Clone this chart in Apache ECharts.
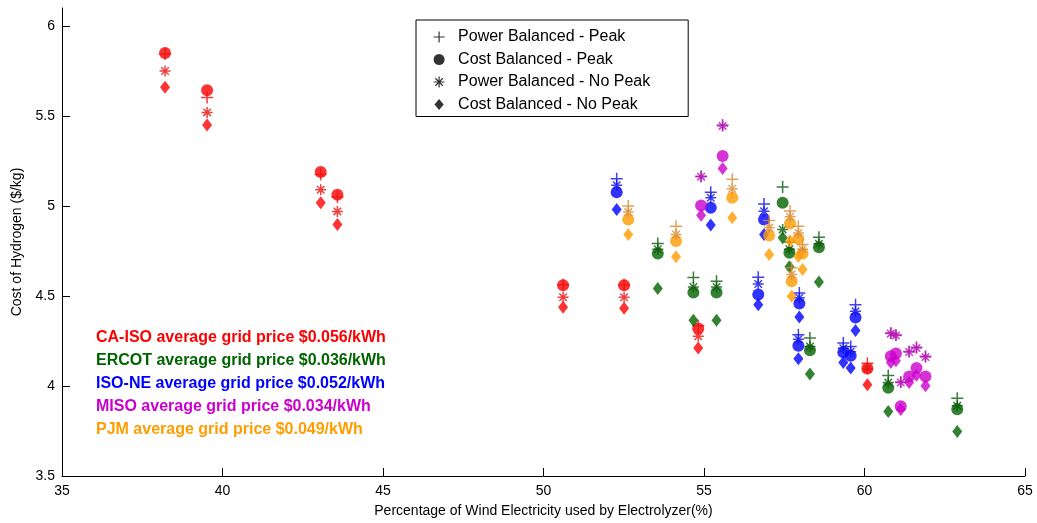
<!DOCTYPE html>
<html>
<head>
<meta charset="utf-8">
<script src="https://cdn.jsdelivr.net/npm/echarts@6/dist/echarts.min.js"></script>
<style>
  html, body { margin: 0; padding: 0; background: #fff; }
  #chart { width: 1037px; height: 523px; }
</style>
</head>
<body>
<div id="chart"></div>
<script>
// Wind share used by the electrolyzer (%) and hydrogen cost ($/kg), per grid region.
// Each region: x positions, then cost for the four operating strategies.

// CA-ISO
const caisoX           = [38.21, 39.52, 43.06, 43.58, 50.61, 52.51, 54.82, 60.09];
const caisoPowerPeak   = [5.845, 5.603, 5.175, 5.050, 4.562, 4.562, 4.335, 4.127];
const caisoCostPeak    = [5.850, 5.643, 5.189, 5.063, 4.560, 4.560, 4.320, 4.097];
const caisoPowerNoPeak = [5.750, 5.520, 5.090, 4.970, 4.493, 4.493, 4.276, 4.095];
const caisoCostNoPeak  = [5.660, 5.450, 5.018, 4.897, 4.437, 4.432, 4.211, 4.007];

// ERCOT
const ercotX           = [53.56, 54.67, 55.39, 57.45, 57.66, 58.58, 58.30, 60.74, 62.89];
const ercotPowerPeak   = [4.792, 4.603, 4.582, 5.105, 4.800, 4.827, 4.267, 4.058, 3.932];
const ercotCostPeak    = [4.736, 4.520, 4.520, 5.018, 4.740, 4.771, 4.198, 3.990, 3.871];
const ercotPowerNoPeak = [4.760, 4.550, 4.550, 4.870, 4.760, 4.790, 4.220, 4.020, 3.890];
const ercotCostNoPeak  = [4.541, 4.365, 4.365, 4.823, 4.662, 4.578, 4.066, 3.858, 3.747];

// ISO-NE
const isoneX           = [52.28, 55.21, 56.87, 56.69, 57.97, 57.94, 59.34, 59.57, 59.72];
const isonePowerPeak   = [5.152, 5.077, 5.011, 4.604, 4.517, 4.285, 4.239, 4.220, 4.452];
const isoneCostPeak    = [5.077, 4.990, 4.925, 4.508, 4.458, 4.224, 4.187, 4.168, 4.381];
const isonePowerNoPeak = [5.115, 5.046, 4.971, 4.567, 4.490, 4.260, 4.210, 4.190, 4.415];
const isoneCostNoPeak  = [4.981, 4.894, 4.842, 4.452, 4.383, 4.151, 4.131, 4.100, 4.309];

// MISO
const misoX            = [54.91, 55.58, 60.82, 60.98, 61.13, 61.39, 61.62, 61.90];
const misoPowerPeak    = [5.165, 5.450, 4.295, 4.283, 4.022, 4.192, 4.215, 4.165];
const misoCostPeak     = [5.003, 5.278, 4.165, 4.180, 3.888, 4.053, 4.100, 4.053];
const misoPowerNoPeak  = [5.163, 5.445, 4.291, 4.280, 4.019, 4.189, 4.211, 4.161];
const misoCostNoPeak   = [4.948, 5.208, 4.130, 4.140, 3.870, 4.020, 4.060, 4.001];

// PJM
const pjmX             = [52.64, 54.13, 55.88, 57.03, 57.68, 57.94, 58.07, 57.73];
const pjmPowerPeak     = [5.000, 4.888, 5.148, 4.920, 4.972, 4.888, 4.786, 4.657];
const pjmCostPeak      = [4.925, 4.805, 5.046, 4.836, 4.903, 4.818, 4.736, 4.582];
const pjmPowerNoPeak   = [4.966, 4.842, 5.096, 4.880, 4.940, 4.850, 4.760, 4.620];
const pjmCostNoPeak    = [4.842, 4.718, 4.935, 4.730, 4.805, 4.720, 4.647, 4.498];

const strategyNames = [
  'Power Balanced - Peak',
  'Cost Balanced - Peak',
  'Power Balanced - No Peak',
  'Cost Balanced - No Peak'
];

const regionNotes = [
  'CA-ISO average grid price $0.056/kWh',
  'ERCOT average grid price $0.036/kWh',
  'ISO-NE average grid price $0.052/kWh',
  'MISO average grid price $0.034/kWh',
  'PJM average grid price $0.049/kWh'
];

const xTicks = [35, 40, 45, 50, 55, 60, 65];
const yTicks = [3.5, 4, 4.5, 5, 5.5, 6];

// marker shapes
const PLUS = 'path://M0,5L10,5M5,0L5,10';
const STAR = 'path://M0,5L10,5M5,0L5,10M1.6,1.6L8.4,8.4M8.4,1.6L1.6,8.4';
const DIAMOND = 'path://M5,0L10,6L5,12L0,6Z';

const regions = [
  { x: caisoX, ys: [caisoPowerPeak, caisoCostPeak, caisoPowerNoPeak, caisoCostNoPeak], color: '#ff0000', line: '#e81010' },
  { x: ercotX, ys: [ercotPowerPeak, ercotCostPeak, ercotPowerNoPeak, ercotCostNoPeak], color: '#006400', line: '#0a5a0a' },
  { x: isoneX, ys: [isonePowerPeak, isoneCostPeak, isonePowerNoPeak, isoneCostNoPeak], color: '#0000ff', line: '#1010e8' },
  { x: misoX,  ys: [misoPowerPeak,  misoCostPeak,  misoPowerNoPeak,  misoCostNoPeak],  color: '#cc00cc', line: '#b414b4' },
  { x: pjmX,   ys: [pjmPowerPeak,   pjmCostPeak,   pjmPowerNoPeak,   pjmCostNoPeak],   color: '#ff9c00', line: '#d98c32' }
];

const noteColors = ['#ff0000', '#006400', '#0000ff', '#cc00cc', '#ff9c00'];

// style per strategy: plus, filled circle, asterisk, filled diamond
function markerStyle(k, r) {
  if (k === 0) return { symbol: PLUS, symbolSize: 12, itemStyle: { color: r.line, borderColor: r.line, borderWidth: 1.5 } };
  if (k === 1) return { symbol: 'circle', symbolSize: 12, itemStyle: { color: r.color } };
  if (k === 2) return { symbol: STAR, symbolSize: 11, itemStyle: { color: r.line, borderColor: r.line, borderWidth: 1.5 } };
  return { symbol: DIAMOND, symbolSize: [10, 13], itemStyle: { color: r.color } };
}

const drawOrder = [1, 3, 0, 2];
const series = [];
regions.forEach(function (r) {
  drawOrder.forEach(function (k) {
    const st = markerStyle(k, r);
    series.push({
      type: 'scatter',
      name: strategyNames[k],
      symbol: st.symbol,
      symbolSize: st.symbolSize,
      itemStyle: st.itemStyle,
      silent: true,
      animation: false,
      data: r.x.map(function (x, i) { return [x, r.ys[k][i]]; })
    });
  });
});

const legendIcons = [PLUS, 'circle', STAR, DIAMOND];
const legendData = strategyNames.map(function (n, k) {
  const stroke = (k === 0 || k === 2);
  return {
    name: n,
    icon: legendIcons[k],
    itemStyle: stroke
      ? { color: '#000', borderColor: '#000', borderWidth: 1.2 }
      : { color: '#000', borderColor: '#000', borderWidth: 0 }
  };
});

const notes = regionNotes.map(function (t, i) {
  return {
    type: 'text',
    x: 96,
    y: 338 + i * 23,
    style: {
      text: t,
      fill: noteColors[i],
      font: 'bold 16px "Liberation Sans", Arial, sans-serif',
      textVerticalAlign: 'middle'
    }
  };
});

const chart = echarts.init(document.getElementById('chart'), null, { renderer: 'canvas' });
chart.setOption({
  backgroundColor: '#ffffff',
  animation: false,
  textStyle: { fontFamily: '"Liberation Sans", Arial, sans-serif' },
  grid: { left: 62, right: 12, top: 8, bottom: 47, containLabel: false },
  legend: {
    show: true,
    orient: 'vertical',
    left: 416,
    top: 20,
    padding: [9, 38, 4, 17],
    itemWidth: 28,
    itemHeight: 11,
    itemGap: 6.5,
    borderColor: '#000',
    borderWidth: 1,
    backgroundColor: '#fff',
    selectedMode: false,
    textStyle: { color: '#000', fontSize: 16 },
    data: legendData
  },
  xAxis: {
    type: 'value',
    min: 35,
    max: 65,
    interval: 5,
    name: 'Percentage of Wind Electricity used by Electrolyzer(%)',
    nameLocation: 'middle',
    nameGap: 28,
    nameTextStyle: { color: '#000', fontSize: 14 },
    axisLine: { lineStyle: { color: '#000', width: 1 } },
    axisTick: { inside: true, length: 8, lineStyle: { color: '#000' }, customValues: xTicks },
    axisLabel: { color: '#000', fontSize: 14, margin: 8, customValues: xTicks },
    splitLine: { show: false }
  },
  yAxis: {
    type: 'value',
    min: 3.5,
    max: 6.1,
    interval: 0.5,
    name: 'Cost of Hydrogen ($/kg)',
    nameLocation: 'middle',
    nameGap: 37,
    nameTextStyle: { color: '#000', fontSize: 14 },
    axisLine: { show: true, lineStyle: { color: '#000', width: 1 } },
    axisTick: { show: true, inside: true, length: 8, lineStyle: { color: '#000' }, customValues: yTicks },
    axisLabel: { color: '#000', fontSize: 14, margin: 7, customValues: yTicks },
    splitLine: { show: false }
  },
  graphic: notes,
  series: series
});
</script>
</body>
</html>
